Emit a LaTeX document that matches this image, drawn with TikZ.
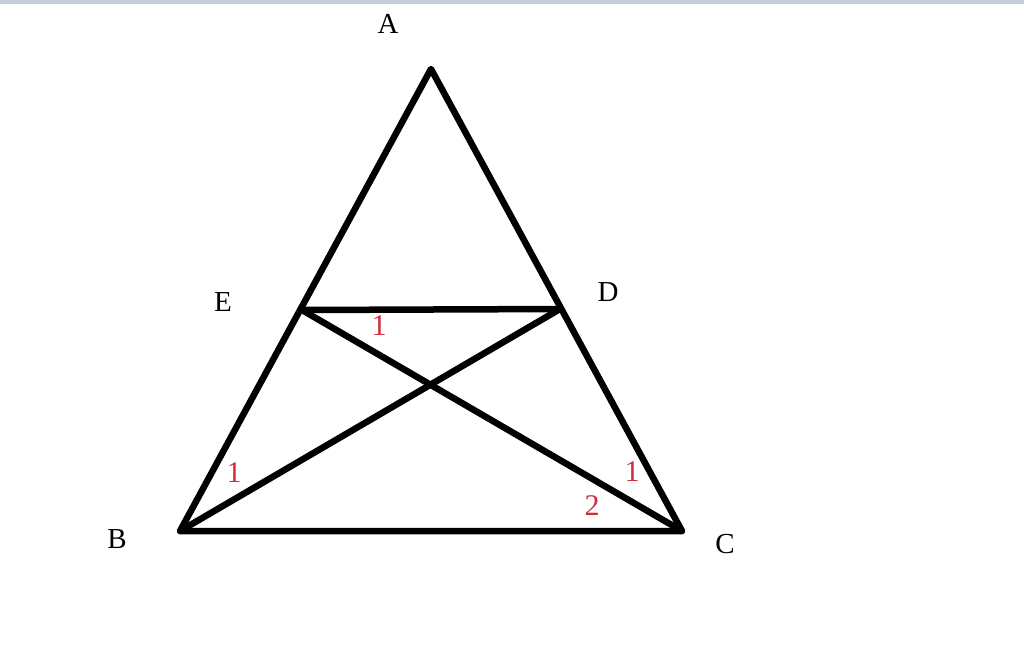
\documentclass[tikz,border=0pt]{standalone}
\usepackage{fontspec}
\setmainfont{Liberation Serif}
\begin{document}
\begin{tikzpicture}[x=1pt,y=-1pt,
  seg/.style={line width=6.5pt,line cap=round,line join=round},
  vlabel/.style={font=\fontsize{29}{29}\selectfont,text=black},
  anglabel/.style={font=\fontsize{30}{30}\selectfont,text={rgb,255:red,205;green,45;blue,60}}]
\useasboundingbox (0,0) rectangle (1024,657);
\fill[fill={rgb,255:red,200;green,205;blue,220}] (0,0) rectangle (1024,3.5);
\coordinate (A) at (431,69);
\coordinate (B) at (180,531);
\coordinate (C) at (682,531);
\coordinate (E) at (302,310);
\coordinate (D) at (560,309);
\draw[seg] (A) -- (B) -- (C) -- cycle;
\draw[seg] (E) -- (D);
\draw[seg] (E) -- (C);
\draw[seg] (D) -- (B);
\node[vlabel] (lA) at (388,24) {A};
\node[vlabel] (lE) at (223,302) {E};
\node[vlabel] (lD) at (608,292) {D};
\node[vlabel] (lB) at (117,539) {B};
\node[vlabel] (lC) at (725,544) {C};
\node[anglabel] (a1) at (379,326) {1};
\node[anglabel] (a2) at (234,473) {1};
\node[anglabel] (a3) at (632,472) {1};
\node[anglabel] (a4) at (592,506) {2};
\end{tikzpicture}
\end{document}
